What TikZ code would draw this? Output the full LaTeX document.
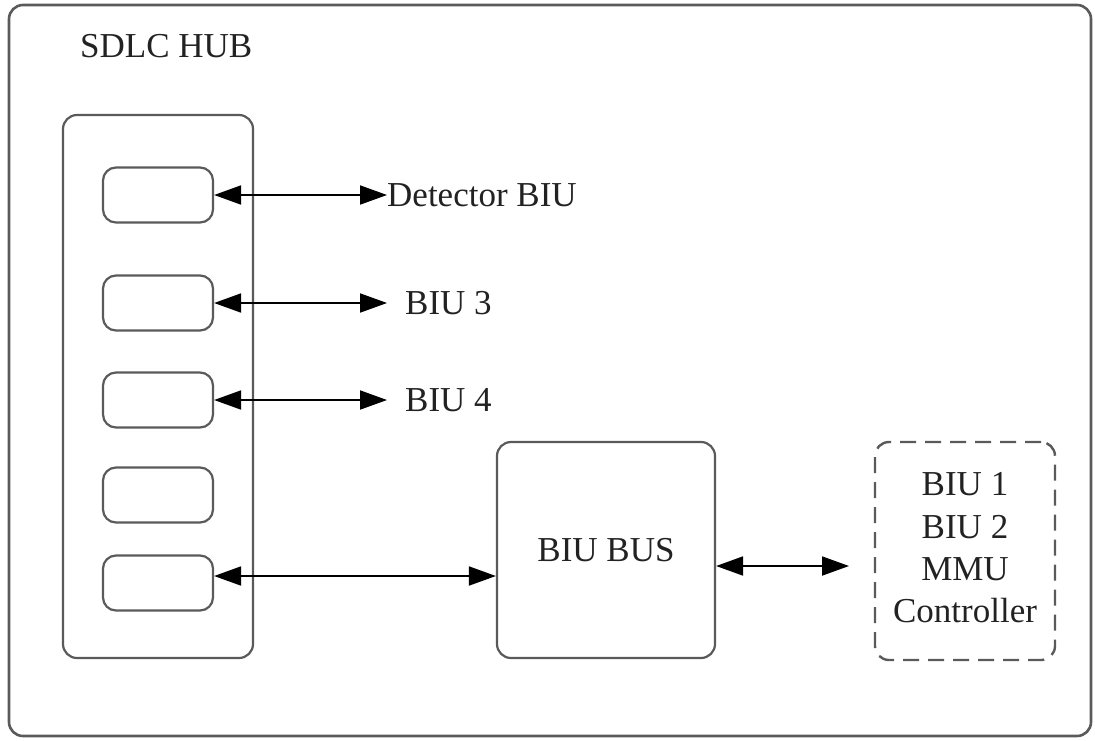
\documentclass[tikz,border=0pt]{standalone}
\usepackage{fontspec}
\setmainfont{Liberation Serif}
\usetikzlibrary{arrows.meta}
\definecolor{boxgray}{HTML}{5A5A5A}
\definecolor{inkgray}{HTML}{222222}
\tikzset{
  frame/.style={draw=boxgray, line width=2.6pt, rounded corners=14pt},
  hubbox/.style={draw=boxgray, line width=2.2pt, rounded corners=14pt, inner sep=0pt},
  port/.style={draw=boxgray, line width=2.2pt, rounded corners=13pt, minimum width=110pt, minimum height=55pt, inner sep=0pt},
  busbox/.style={draw=boxgray, line width=2.2pt, rounded corners=14pt, minimum width=218pt, minimum height=216pt, inner sep=0pt, text=inkgray, font=\fontsize{35}{41}\selectfont},
  unitbox/.style={draw=boxgray, line width=2.4pt, dash pattern=on 16pt off 9pt, rounded corners=14pt, minimum width=180pt, minimum height=218pt, inner sep=0pt},
  lbl/.style={text=inkgray, font=\fontsize{35}{41}\selectfont, inner sep=0pt},
  link/.style={draw=black, line width=1.9pt, {Triangle[length=27pt,width=19pt]}-{Triangle[length=27pt,width=19pt]}}
}
\begin{document}
\begin{tikzpicture}[x=1pt,y=-1pt]
  \useasboundingbox (0,0) rectangle (1095,740);
  % outer hub frame
  \draw[frame] (9,5) rectangle (1091,736);
  \node[lbl, anchor=west] (title) at (80,46) {SDLC HUB};
  % hub column with its ports
  \draw[hubbox] (63,115) rectangle (253,658);
  \node[port] (p1) at (158,195) {};
  \node[port] (p2) at (158,303) {};
  \node[port] (p3) at (158,400) {};
  \node[port] (p4) at (158,495) {};
  \node[port] (p5) at (158,583) {};
  % external interfaces
  \node[lbl, anchor=west] (det) at (387,195) {Detector BIU};
  \node[lbl, anchor=west] (biu3) at (405,303) {BIU 3};
  \node[lbl, anchor=west] (biu4) at (405,400) {BIU 4};
  \coordinate (e3) at (387,303);
  \coordinate (e4) at (387,400);
  % bus and the units behind it
  \node[busbox] (bus) at (606,550) {BIU BUS};
  \node[unitbox] (units) at (965,551) {};
  \node[lbl] (u1) at (965,484) {BIU 1};
  \node[lbl] (u2) at (965,527) {BIU 2};
  \node[lbl] (u3) at (965,569) {MMU};
  \node[lbl] (u4) at (965,611) {Controller};
  \coordinate (ue) at (849,566);
  % connectors
  \draw[link] (p1.east) -- (det.west);
  \draw[link] (p2.east |- e3) -- (e3);
  \draw[link] (p3.east |- e4) -- (e4);
  \draw[link] (p5.east |- 0,576) -- (bus.west |- 0,576);
  \draw[link] (bus.east |- ue) -- (ue);
\end{tikzpicture}
\end{document}
